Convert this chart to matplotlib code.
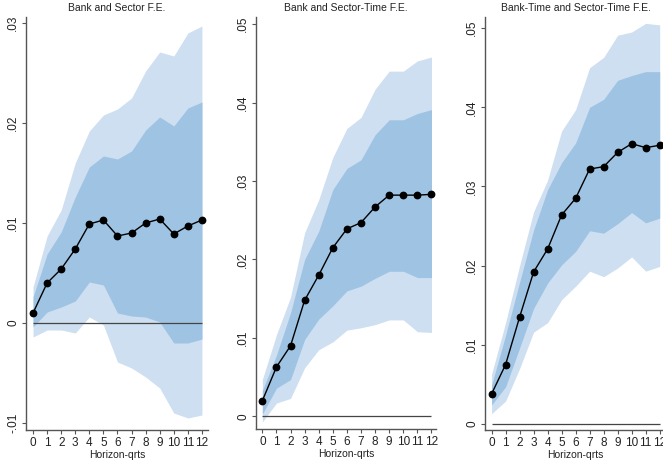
import numpy as np
import matplotlib
matplotlib.use('Agg')
import matplotlib.pyplot as plt

plt.rcParams['font.family'] = ['Liberation Sans', 'DejaVu Sans']

# horizon in quarters
h = list(range(13))

# Bank and Sector F.E.
est1 = [.0010, .0040, .0054, .0074, .0099, .0103, .0087, .0090, .0100, .0104, .0089, .0097, .0103]
hi90_1 = [.0036, .0087, .0113, .0160, .0192, .0208, .0214, .0225, .0252, .0271, .0267, .0290, .0297]
hi68_1 = [.0026, .0069, .0091, .0126, .0156, .0167, .0164, .0172, .0193, .0206, .0197, .0215, .0221]
lo68_1 = [-.0004, .0011, .0016, .0022, .0041, .0038, .0010, .0007, .0006, .0001, -.0020, -.0020, -.0016]
lo90_1 = [-.0014, -.0007, -.0007, -.0010, .0006, -.0002, -.0039, -.0045, -.0054, -.0065, -.0090, -.0095, -.0092]

# Bank and Sector-Time F.E.
est2 = [.0020, .0063, .0090, .0148, .0180, .0215, .0239, .0247, .0267, .0282, .0282, .0282, .0283]
hi90_2 = [.0047, .0104, .0152, .0234, .0276, .0330, .0367, .0381, .0417, .0440, .0440, .0453, .0458]
hi68_2 = [.0033, .0078, .0132, .0200, .0236, .0289, .0316, .0327, .0359, .0378, .0378, .0386, .0391]
lo68_2 = [.0003, .0036, .0047, .0098, .0124, .0141, .0160, .0166, .0176, .0185, .0185, .0177, .0177]
lo90_2 = [-.0007, .0017, .0023, .0062, .0085, .0095, .0110, .0113, .0117, .0123, .0123, .0108, .0107]

# Bank-Time and Sector-Time F.E.
est3 = [.0038, .0075, .0135, .0192, .0221, .0264, .0285, .0322, .0325, .0343, .0354, .0349, .0352]
hi90_3 = [.0063, .0128, .0200, .0268, .0308, .0370, .0397, .0450, .0463, .0491, .0495, .0506, .0504]
hi68_3 = [.0049, .0112, .0179, .0245, .0296, .0330, .0355, .0400, .0410, .0434, .0440, .0445, .0445]
lo68_3 = [.0024, .0047, .0096, .0146, .0178, .0201, .0218, .0244, .0241, .0253, .0267, .0254, .0260]
lo90_3 = [.0013, .0029, .0070, .0116, .0128, .0157, .0174, .0193, .0186, .0197, .0211, .0193, .0199]

titles = ['Bank and Sector F.E.', 'Bank and Sector-Time F.E.', 'Bank-Time and Sector-Time F.E.']
yticks1 = [-.01, 0, .01, .02, .03]
ylabels1 = ['-.01', '0', '.01', '.02', '.03']
yticks23 = [0, .01, .02, .03, .04, .05]
ylabels23 = ['0', '.01', '.02', '.03', '.04', '.05']

W, H = 663, 463
fig = plt.figure(figsize=(W / 100, H / 100), dpi=100)

def px_axes(left, right, top, bottom):
    return fig.add_axes([left / W, (H - bottom) / H, (right - left) / W, (bottom - top) / H])

panels = [
    (px_axes(26, 208, 17, 430), est1, hi90_1, hi68_1, lo68_1, lo90_1, (-0.5, 12.43), (-.0107, .0306), yticks1, ylabels1),
    (px_axes(256, 436, 17, 429), est2, hi90_2, hi68_2, lo68_2, lo90_2, (-0.45, 12.32), (-.0016, .0509), yticks23, ylabels23),
    (px_axes(485, 666, 17, 430), est3, hi90_3, hi68_3, lo68_3, lo90_3, (-0.47, 12.45), (-.00076, .0514), yticks23, ylabels23),
]

light = '#cddff0'
dark = '#9fc3e3'
spine_c = '#555555'

for (ax, est, hi90, hi68, lo68, lo90, xl, yl, yt, ytl), title in zip(panels, titles):
    ax.fill_between(h, lo90, hi90, color=light, lw=0, zorder=1)
    ax.fill_between(h, lo68, hi68, color=dark, lw=0, zorder=2)
    ax.hlines(0, h[0], h[-1], color='#444444', lw=0.9, zorder=3)
    ax.plot(h, est, color='black', lw=1.0, marker='o', markersize=4.6, zorder=4)

    ax.set_xlim(*xl)
    ax.set_ylim(*yl)
    ax.set_xticks(h)
    ax.set_yticks(yt)
    ax.set_yticklabels(ytl, rotation=90, va='center')
    for s in ['top', 'right']:
        ax.spines[s].set_visible(False)
    for s in ['left', 'bottom']:
        ax.spines[s].set_color(spine_c)
        ax.spines[s].set_linewidth(1.0)
    ax.tick_params(direction='out', length=3, width=0.8, color=spine_c,
                   labelsize=8.5, labelcolor='#222222', pad=2)
    ax.set_title(title, fontsize=7.5, color='#222222', pad=4)
    ax.set_xlabel('Horizon-qrts', fontsize=7.5, color='#222222', labelpad=1)
    ax.set_facecolor('white')

fig.savefig('out.png', dpi=100)
